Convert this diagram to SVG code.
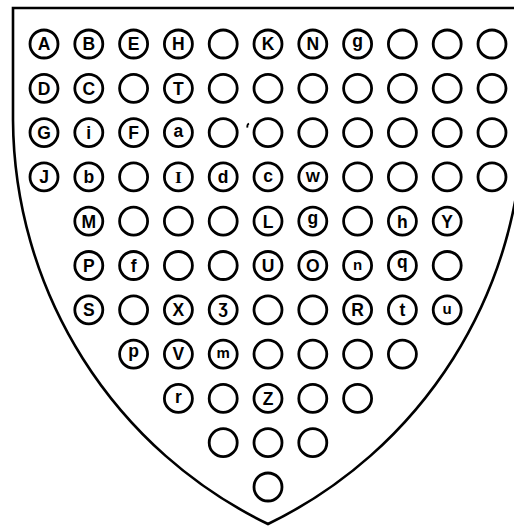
<svg xmlns="http://www.w3.org/2000/svg" width="514" height="526" viewBox="0 0 514 526">
<style>
.c{fill:#fff;stroke:#000;stroke-width:2.8}
.t{font-family:"Liberation Sans","DejaVu Sans",sans-serif;font-size:17.5px;font-weight:bold;text-anchor:middle;fill:#000}
.s{font-size:15px}
.shield{fill:#fff;stroke:#000;stroke-width:2.6}
</style>
<rect width="514" height="526" fill="#fff"/>
<path class="shield" d="M13,8 L523,8 L523,120 A452,452 0 0 1 268,524 A452,452 0 0 1 13,120 Z"/>
<path d="M249,123.5 q-2.2,1 -1.6,4.2" fill="none" stroke="#000" stroke-width="1.8"/>
<!-- row 0 -->
<g id="A"><circle class="c" cx="44" cy="44" r="14"/><text class="t" x="44" y="50.3">A</text></g>
<g id="B"><circle class="c" cx="88.8" cy="44" r="14"/><text class="t" x="88.8" y="50.3">B</text></g>
<g id="E"><circle class="c" cx="133.6" cy="44" r="14"/><text class="t" x="133.6" y="50.3">E</text></g>
<g id="H"><circle class="c" cx="178.4" cy="44" r="14"/><text class="t" x="178.4" y="50.3">H</text></g>
<g id="r0c4"><circle class="c" cx="223.2" cy="44" r="14"/></g>
<g id="K"><circle class="c" cx="268" cy="44" r="14"/><text class="t" x="268" y="50.3">K</text></g>
<g id="N"><circle class="c" cx="312.8" cy="44" r="14"/><text class="t" x="312.8" y="50.3">N</text></g>
<g id="g1"><circle class="c" cx="357.6" cy="44" r="14"/><text class="t" x="357.6" y="46.8">g</text></g>
<g id="r0c8"><circle class="c" cx="402.4" cy="44" r="14"/></g>
<g id="r0c9"><circle class="c" cx="447.2" cy="44" r="14"/></g>
<g id="r0c10"><circle class="c" cx="492" cy="44" r="14"/></g>
<!-- row 1 -->
<g id="D"><circle class="c" cx="44" cy="88.3" r="14"/><text class="t" x="44" y="94.6">D</text></g>
<g id="C"><circle class="c" cx="88.8" cy="88.3" r="14"/><text class="t" x="88.8" y="94.6">C</text></g>
<g id="r1c2"><circle class="c" cx="133.6" cy="88.3" r="14"/></g>
<g id="T"><circle class="c" cx="178.4" cy="88.3" r="14"/><text class="t" x="178.4" y="94.6">T</text></g>
<g id="r1c4"><circle class="c" cx="223.2" cy="88.3" r="14"/></g>
<g id="r1c5"><circle class="c" cx="268" cy="88.3" r="14"/></g>
<g id="r1c6"><circle class="c" cx="312.8" cy="88.3" r="14"/></g>
<g id="r1c7"><circle class="c" cx="357.6" cy="88.3" r="14"/></g>
<g id="r1c8"><circle class="c" cx="402.4" cy="88.3" r="14"/></g>
<g id="r1c9"><circle class="c" cx="447.2" cy="88.3" r="14"/></g>
<g id="r1c10"><circle class="c" cx="492" cy="88.3" r="14"/></g>
<!-- row 2 -->
<g id="G"><circle class="c" cx="44" cy="132.6" r="14"/><text class="t" x="44" y="138.9">G</text></g>
<g id="i"><circle class="c" cx="88.8" cy="132.6" r="14"/><text class="t" x="88.8" y="138.9">i</text></g>
<g id="F"><circle class="c" cx="133.6" cy="132.6" r="14"/><text class="t" x="133.6" y="138.9">F</text></g>
<g id="a"><circle class="c" cx="178.4" cy="132.6" r="14"/><text class="t" x="178.4" y="137.3">a</text></g>
<g id="r2c4"><circle class="c" cx="223.2" cy="132.6" r="14"/></g>
<g id="r2c5"><circle class="c" cx="268" cy="132.6" r="14"/></g>
<g id="r2c6"><circle class="c" cx="312.8" cy="132.6" r="14"/></g>
<g id="r2c7"><circle class="c" cx="357.6" cy="132.6" r="14"/></g>
<g id="r2c8"><circle class="c" cx="402.4" cy="132.6" r="14"/></g>
<g id="r2c9"><circle class="c" cx="447.2" cy="132.6" r="14"/></g>
<g id="r2c10"><circle class="c" cx="492" cy="132.6" r="14"/></g>
<!-- row 3 -->
<g id="J"><circle class="c" cx="44" cy="176.9" r="14"/><text class="t" x="44" y="183.2">J</text></g>
<g id="b"><circle class="c" cx="88.8" cy="176.9" r="14"/><text class="t" x="88.8" y="183.2">b</text></g>
<g id="r3c2"><circle class="c" cx="133.6" cy="176.9" r="14"/></g>
<g id="I"><circle class="c" cx="178.4" cy="176.9" r="14"/><text class="t" x="178.4" y="183.2" style="font-family:'Liberation Serif',serif">I</text></g>
<g id="d"><circle class="c" cx="223.2" cy="176.9" r="14"/><text class="t" x="223.2" y="183.2">d</text></g>
<g id="c"><circle class="c" cx="268" cy="176.9" r="14"/><text class="t" x="268" y="181.6">c</text></g>
<g id="W"><circle class="c" cx="312.8" cy="176.9" r="14"/><text class="t s" x="312.8" y="182.3">W</text></g>
<g id="r3c7"><circle class="c" cx="357.6" cy="176.9" r="14"/></g>
<g id="r3c8"><circle class="c" cx="402.4" cy="176.9" r="14"/></g>
<g id="r3c9"><circle class="c" cx="447.2" cy="176.9" r="14"/></g>
<g id="r3c10"><circle class="c" cx="492" cy="176.9" r="14"/></g>
<!-- row 4 -->
<g id="M"><circle class="c" cx="88.8" cy="221.2" r="14"/><text class="t" x="88.8" y="227.5">M</text></g>
<g id="r4c2"><circle class="c" cx="133.6" cy="221.2" r="14"/></g>
<g id="r4c3"><circle class="c" cx="178.4" cy="221.2" r="14"/></g>
<g id="r4c4"><circle class="c" cx="223.2" cy="221.2" r="14"/></g>
<g id="L"><circle class="c" cx="268" cy="221.2" r="14"/><text class="t" x="268" y="227.5">L</text></g>
<g id="g2"><circle class="c" cx="312.8" cy="221.2" r="14"/><text class="t" x="312.8" y="224">g</text></g>
<g id="r4c7"><circle class="c" cx="357.6" cy="221.2" r="14"/></g>
<g id="h"><circle class="c" cx="402.4" cy="221.2" r="14"/><text class="t" x="402.4" y="227.5">h</text></g>
<g id="Y"><circle class="c" cx="447.2" cy="221.2" r="14"/><text class="t" x="447.2" y="227.5">Y</text></g>
<!-- row 5 -->
<g id="P"><circle class="c" cx="88.8" cy="265.5" r="14"/><text class="t" x="88.8" y="271.8">P</text></g>
<g id="f"><circle class="c" cx="133.6" cy="265.5" r="14"/><text class="t" x="133.6" y="271.8">f</text></g>
<g id="r5c3"><circle class="c" cx="178.4" cy="265.5" r="14"/></g>
<g id="r5c4"><circle class="c" cx="223.2" cy="265.5" r="14"/></g>
<g id="U"><circle class="c" cx="268" cy="265.5" r="14"/><text class="t" x="268" y="271.8">U</text></g>
<g id="O"><circle class="c" cx="312.8" cy="265.5" r="14"/><text class="t" x="312.8" y="271.8">O</text></g>
<g id="n"><circle class="c" cx="357.6" cy="265.5" r="14"/><text class="t s" x="357.6" y="269.5">n</text></g>
<g id="q"><circle class="c" cx="402.4" cy="265.5" r="14"/><text class="t" x="402.4" y="268.3">q</text></g>
<g id="r5c9"><circle class="c" cx="447.2" cy="265.5" r="14"/></g>
<!-- row 6 -->
<g id="S"><circle class="c" cx="88.8" cy="309.8" r="14"/><text class="t" x="88.8" y="316.1">S</text></g>
<g id="r6c2"><circle class="c" cx="133.6" cy="309.8" r="14"/></g>
<g id="X"><circle class="c" cx="178.4" cy="309.8" r="14"/><text class="t" x="178.4" y="316.1">X</text></g>
<g id="z3"><circle class="c" cx="223.2" cy="309.8" r="14"/><text class="t" x="223.2" y="312.6">ʒ</text></g>
<g id="r6c5"><circle class="c" cx="268" cy="309.8" r="14"/></g>
<g id="r6c6"><circle class="c" cx="312.8" cy="309.8" r="14"/></g>
<g id="R"><circle class="c" cx="357.6" cy="309.8" r="14"/><text class="t" x="357.6" y="316.1">R</text></g>
<g id="t"><circle class="c" cx="402.4" cy="309.8" r="14"/><text class="t" x="402.4" y="316.1">t</text></g>
<g id="u"><circle class="c" cx="447.2" cy="309.8" r="14"/><text class="t s" x="447.2" y="313.8">u</text></g>
<!-- row 7 -->
<g id="p"><circle class="c" cx="133.6" cy="354.1" r="14"/><text class="t" x="133.6" y="356.9">p</text></g>
<g id="V"><circle class="c" cx="178.4" cy="354.1" r="14"/><text class="t" x="178.4" y="360.4">V</text></g>
<g id="m"><circle class="c" cx="223.2" cy="354.1" r="14"/><text class="t s" x="223.2" y="358.1">m</text></g>
<g id="r7c5"><circle class="c" cx="268" cy="354.1" r="14"/></g>
<g id="r7c6"><circle class="c" cx="312.8" cy="354.1" r="14"/></g>
<g id="r7c7"><circle class="c" cx="357.6" cy="354.1" r="14"/></g>
<g id="r7c8"><circle class="c" cx="402.4" cy="354.1" r="14"/></g>
<!-- row 8 -->
<g id="r"><circle class="c" cx="178.4" cy="398.4" r="14"/><text class="t" x="178.4" y="403.1">r</text></g>
<g id="r8c4"><circle class="c" cx="223.2" cy="398.4" r="14"/></g>
<g id="Z"><circle class="c" cx="268" cy="398.4" r="14"/><text class="t" x="268" y="404.7">Z</text></g>
<g id="r8c6"><circle class="c" cx="312.8" cy="398.4" r="14"/></g>
<g id="r8c7"><circle class="c" cx="357.6" cy="398.4" r="14"/></g>
<!-- row 9 -->
<g id="r9c4"><circle class="c" cx="223.2" cy="442.7" r="14"/></g>
<g id="r9c5"><circle class="c" cx="268" cy="442.7" r="14"/></g>
<g id="r9c6"><circle class="c" cx="312.8" cy="442.7" r="14"/></g>
<!-- row 10 -->
<g id="r10c5"><circle class="c" cx="268" cy="487" r="14"/></g>
<g id="connectors"></g>
</svg>
